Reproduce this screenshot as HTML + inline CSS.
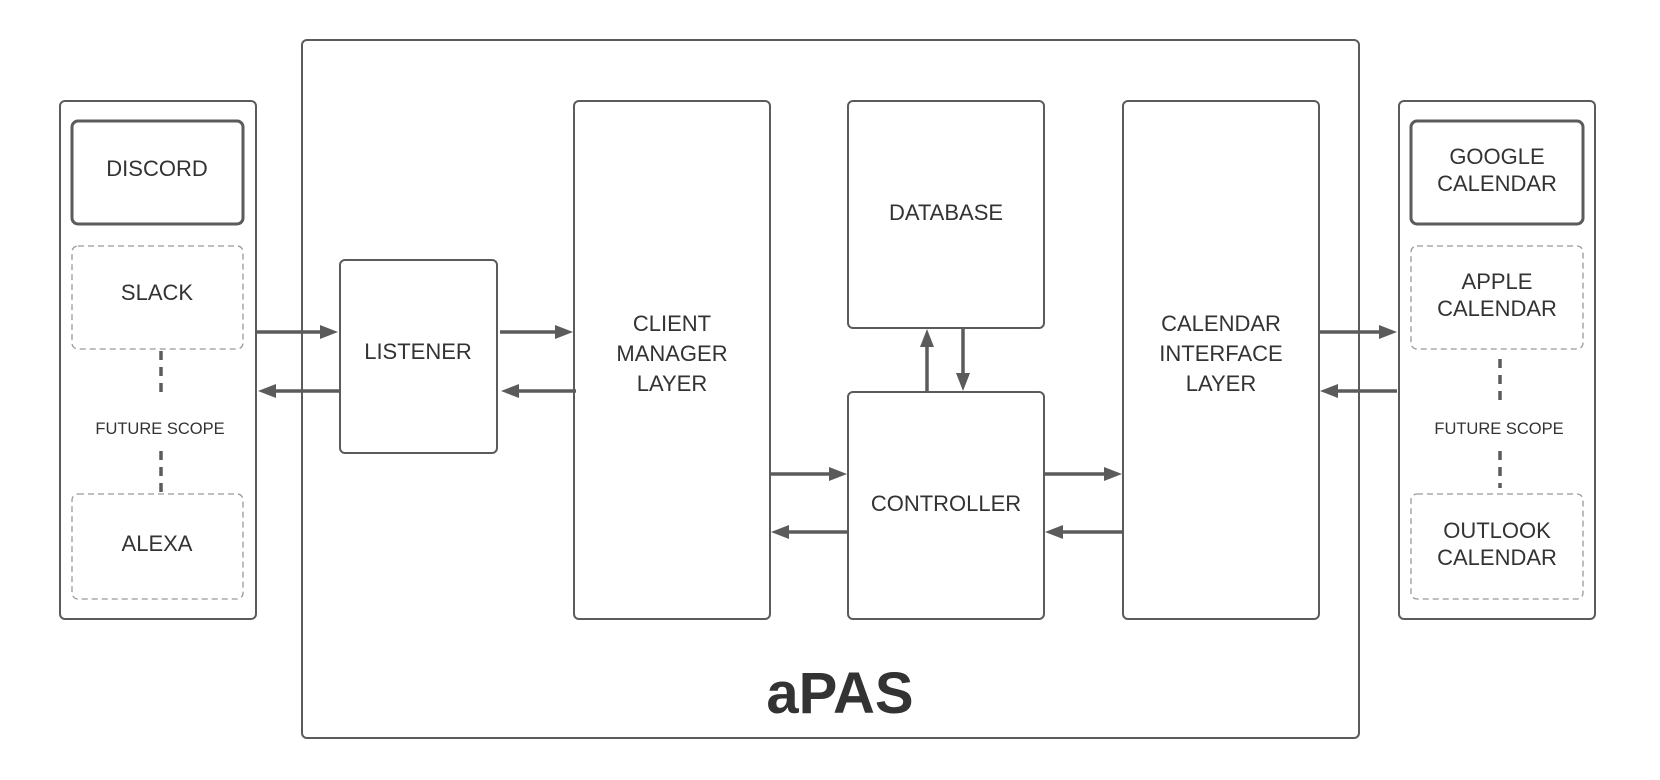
<!DOCTYPE html>
<html><head><meta charset="utf-8"><style>
html,body{margin:0;padding:0;background:#fff;}
svg{display:block}
text{font-family:"Liberation Sans",Arial,sans-serif;fill:#333;}
</style></head><body>
<svg width="1660" height="780" viewBox="0 0 1660 780" xmlns="http://www.w3.org/2000/svg">
<g fill="none" stroke="#5b5b5b" stroke-width="2">
<rect x="302" y="40" width="1057" height="698" rx="5"/>
<rect x="60" y="101" width="196" height="518" rx="5"/>
<rect x="72" y="121" width="171" height="103" rx="6" stroke-width="3"/>
<rect x="72" y="246" width="171" height="103" rx="6" stroke="#999" stroke-width="1.3" stroke-dasharray="6,4"/>
<rect x="72" y="494" width="171" height="105" rx="6" stroke="#999" stroke-width="1.3" stroke-dasharray="6,4"/>
<rect x="1399" y="101" width="196" height="518" rx="5"/>
<rect x="1411" y="121" width="172" height="103" rx="6" stroke-width="3"/>
<rect x="1411" y="246" width="172" height="103" rx="6" stroke="#999" stroke-width="1.3" stroke-dasharray="6,4"/>
<rect x="1411" y="494" width="172" height="105" rx="6" stroke="#999" stroke-width="1.3" stroke-dasharray="6,4"/>
<rect x="340" y="260" width="157" height="193" rx="5"/>
<rect x="574" y="101" width="196" height="518" rx="5"/>
<rect x="848" y="101" width="196" height="227" rx="5"/>
<rect x="848" y="392" width="196" height="227" rx="5"/>
<rect x="1123" y="101" width="196" height="518" rx="5"/>
</g>
<g stroke="#5b5b5b" stroke-width="3.5" stroke-dasharray="9,7">
<line x1="161" y1="351" x2="161" y2="396"/>
<line x1="161" y1="451" x2="161" y2="494"/>
<line x1="1500" y1="359" x2="1500" y2="406"/>
<line x1="1500" y1="451" x2="1500" y2="488"/>
</g>
<g stroke="#5b5b5b" stroke-width="3.5" fill="#5b5b5b">
<line x1="256" y1="332" x2="322" y2="332"/><path d="M338,332 L320,325 L320,339Z" stroke="none"/>
<line x1="340" y1="391" x2="274" y2="391"/><path d="M258,391 L276,384 L276,398Z" stroke="none"/>
<line x1="500" y1="332" x2="556" y2="332"/><path d="M573,332 L555,325 L555,339Z" stroke="none"/>
<line x1="576" y1="391" x2="518" y2="391"/><path d="M501,391 L519,384 L519,398Z" stroke="none"/>
<line x1="770" y1="474" x2="830" y2="474"/><path d="M847,474 L829,467 L829,481Z" stroke="none"/>
<line x1="848" y1="532" x2="788" y2="532"/><path d="M771,532 L789,525 L789,539Z" stroke="none"/>
<line x1="1044" y1="474" x2="1105" y2="474"/><path d="M1122,474 L1104,467 L1104,481Z" stroke="none"/>
<line x1="1123" y1="532" x2="1062" y2="532"/><path d="M1045,532 L1063,525 L1063,539Z" stroke="none"/>
<line x1="1319" y1="332" x2="1380" y2="332"/><path d="M1397,332 L1379,325 L1379,339Z" stroke="none"/>
<line x1="1397" y1="391" x2="1338" y2="391"/><path d="M1320,391 L1338,384 L1338,398Z" stroke="none"/>
<line x1="927" y1="392" x2="927" y2="346"/><path d="M927,329 L920,347 L934,347Z" stroke="none"/>
<line x1="963" y1="328" x2="963" y2="374"/><path d="M963,391 L956,373 L970,373Z" stroke="none"/>
</g>
<g font-size="22" text-anchor="middle">
<text x="157" y="176">DISCORD</text>
<text x="157" y="300">SLACK</text>
<text x="157" y="551">ALEXA</text>
<text x="1497" y="164">GOOGLE</text>
<text x="1497" y="191">CALENDAR</text>
<text x="1497" y="289">APPLE</text>
<text x="1497" y="316">CALENDAR</text>
<text x="1497" y="538">OUTLOOK</text>
<text x="1497" y="565">CALENDAR</text>
<text x="418" y="359">LISTENER</text>
<text x="672" y="331">CLIENT</text>
<text x="672" y="361">MANAGER</text>
<text x="672" y="391">LAYER</text>
<text x="946" y="220">DATABASE</text>
<text x="946" y="511">CONTROLLER</text>
<text x="1221" y="331">CALENDAR</text>
<text x="1221" y="361">INTERFACE</text>
<text x="1221" y="391">LAYER</text>
</g>
<g font-size="16.5" text-anchor="middle">
<text x="160" y="434">FUTURE SCOPE</text>
<text x="1499" y="434">FUTURE SCOPE</text>
</g>
<text x="840" y="713" font-size="58" font-weight="bold" text-anchor="middle" style="fill:#333">aPAS</text>
</svg>
</body></html>
